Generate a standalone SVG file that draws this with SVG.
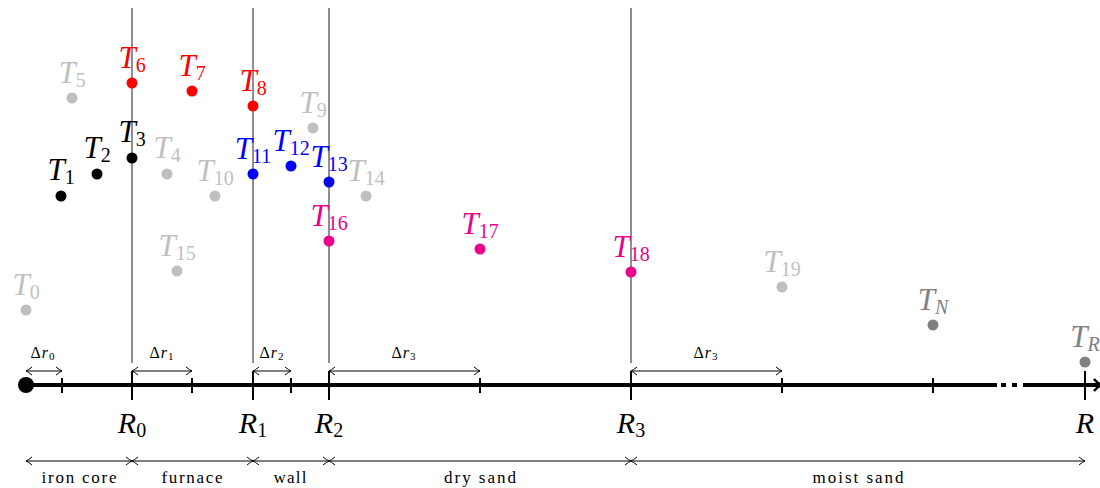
<svg xmlns="http://www.w3.org/2000/svg" width="1100" height="488" viewBox="0 0 1100 488" font-family="Liberation Serif, serif">
<style>
text{font-family:'Liberation Serif',serif}
.t{font-size:31px;font-style:italic}
.s{font-size:20px;font-style:normal}
.si{font-size:20px;font-style:italic}
.R{font-size:30px;font-style:italic}
.d{font-size:16px;letter-spacing:1px}
.ds{font-size:11px;font-style:normal}
.lab{font-size:17px}
.vl{stroke:#444;stroke-width:1.2}
.dim{stroke:#000;stroke-width:1;fill:none}
.ax{stroke:#000;stroke-width:4;fill:none}
.tk{stroke:#000;stroke-width:2}
.lg{fill:#bfbfbf}.bk{fill:#000}.rd{fill:#ff0000}.bl{fill:#0000ff}.mg{fill:#ec008c}.gy{fill:#808080}
</style>
<defs>
<marker id="ah" viewBox="-8 -5 10 10" refX="0" refY="0" markerWidth="10" markerHeight="10" markerUnits="userSpaceOnUse" orient="auto-start-reverse">
<path d="M-6,-4 Q-2,-0.8 0,0 Q-2,0.8 -6,4" fill="none" stroke="#000" stroke-width="1"/>
</marker>
</defs>
<g id="guides">
<line class="vl" x1="132" y1="8" x2="132" y2="363"/>
<line class="vl" x1="253" y1="8" x2="253" y2="363"/>
<line class="vl" x1="329" y1="8" x2="329" y2="363"/>
<line class="vl" x1="631" y1="8" x2="631" y2="363"/>
</g>
<g id="axis">
<line class="ax" x1="26" y1="385" x2="997" y2="385"/>
<line class="ax" x1="1001" y1="385" x2="1006" y2="385"/>
<line class="ax" x1="1012" y1="385" x2="1017" y2="385"/>
<line class="ax" x1="1023" y1="385" x2="1100" y2="385"/>
<path d="M1094,379 Q1098,384 1102,385 Q1098,386 1094,391" fill="none" stroke="#000" stroke-width="2.5"/>
<circle cx="26" cy="385" r="8" fill="#000"/>
<g class="tk">
<line x1="62" y1="378" x2="62" y2="393"/>
<line x1="192" y1="378" x2="192" y2="393"/>
<line x1="291" y1="378" x2="291" y2="393"/>
<line x1="480" y1="378" x2="480" y2="393"/>
<line x1="782" y1="378" x2="782" y2="393"/>
<line x1="933" y1="378" x2="933" y2="393"/>
<line x1="132" y1="371" x2="132" y2="400"/>
<line x1="253" y1="371" x2="253" y2="400"/>
<line x1="329" y1="371" x2="329" y2="400"/>
<line x1="631" y1="371" x2="631" y2="400"/>
<line x1="1085" y1="371" x2="1085" y2="400"/>
</g>
<text class="R" x="132" y="433" text-anchor="middle">R<tspan class="s" dy="4">0</tspan></text>
<text class="R" x="253" y="433" text-anchor="middle">R<tspan class="s" dy="4">1</tspan></text>
<text class="R" x="329" y="433" text-anchor="middle">R<tspan class="s" dy="4">2</tspan></text>
<text class="R" x="631" y="433" text-anchor="middle">R<tspan class="s" dy="4">3</tspan></text>
<text class="R" x="1085" y="433" text-anchor="middle">R</text>
</g>
<g id="connectors">
<line class="dim" x1="26" y1="371" x2="62" y2="371" marker-start="url(#ah)" marker-end="url(#ah)"/>
<line class="dim" x1="132" y1="371" x2="192" y2="371" marker-start="url(#ah)" marker-end="url(#ah)"/>
<line class="dim" x1="253" y1="371" x2="291" y2="371" marker-start="url(#ah)" marker-end="url(#ah)"/>
<line class="dim" x1="329" y1="371" x2="480" y2="371" marker-start="url(#ah)" marker-end="url(#ah)"/>
<line class="dim" x1="631" y1="371" x2="782" y2="371" marker-start="url(#ah)" marker-end="url(#ah)"/>
<line class="dim" x1="26" y1="461" x2="132" y2="461" marker-start="url(#ah)" marker-end="url(#ah)"/>
<line class="dim" x1="132" y1="461" x2="253" y2="461" marker-start="url(#ah)" marker-end="url(#ah)"/>
<line class="dim" x1="253" y1="461" x2="329" y2="461" marker-start="url(#ah)" marker-end="url(#ah)"/>
<line class="dim" x1="329" y1="461" x2="631" y2="461" marker-start="url(#ah)" marker-end="url(#ah)"/>
<line class="dim" x1="631" y1="461" x2="1085" y2="461" marker-start="url(#ah)" marker-end="url(#ah)"/>
</g>
<g id="dimlabels">
<text class="d" x="43" y="358" text-anchor="middle">Δ<tspan font-style="italic">r</tspan><tspan class="ds" dy="2">0</tspan></text>
<text class="d" x="162" y="358" text-anchor="middle">Δ<tspan font-style="italic">r</tspan><tspan class="ds" dy="2">1</tspan></text>
<text class="d" x="272" y="358" text-anchor="middle">Δ<tspan font-style="italic">r</tspan><tspan class="ds" dy="2">2</tspan></text>
<text class="d" x="404" y="358" text-anchor="middle">Δ<tspan font-style="italic">r</tspan><tspan class="ds" dy="2">3</tspan></text>
<text class="d" x="706" y="358" text-anchor="middle">Δ<tspan font-style="italic">r</tspan><tspan class="ds" dy="2">3</tspan></text>
<text class="lab" x="79" y="483" text-anchor="middle" textLength="75" lengthAdjust="spacing">iron core</text>
<text class="lab" x="192" y="483" text-anchor="middle" textLength="61" lengthAdjust="spacing">furnace</text>
<text class="lab" x="290" y="483" text-anchor="middle" textLength="33" lengthAdjust="spacing">wall</text>
<text class="lab" x="480" y="483" text-anchor="middle" textLength="72" lengthAdjust="spacing">dry sand</text>
<text class="lab" x="858" y="483" text-anchor="middle" textLength="91" lengthAdjust="spacing">moist sand</text>
</g>
<g id="T0" class="lg"><circle cx="26" cy="310" r="5.5"/><text class="t" x="26" y="295" text-anchor="middle">T<tspan class="s" dy="4">0</tspan></text></g>
<g id="T1" class="bk"><circle cx="61" cy="196" r="5.5"/><text class="t" x="61" y="180" text-anchor="middle">T<tspan class="s" dy="4">1</tspan></text></g>
<g id="T2" class="bk"><circle cx="97" cy="174" r="5.5"/><text class="t" x="97" y="158" text-anchor="middle">T<tspan class="s" dy="4">2</tspan></text></g>
<g id="T3" class="bk"><circle cx="132" cy="158" r="5.5"/><text class="t" x="132" y="142" text-anchor="middle">T<tspan class="s" dy="4">3</tspan></text></g>
<g id="T4" class="lg"><circle cx="167" cy="174" r="5.5"/><text class="t" x="167" y="158" text-anchor="middle">T<tspan class="s" dy="4">4</tspan></text></g>
<g id="T5" class="lg"><circle cx="72" cy="98" r="5.5"/><text class="t" x="72" y="83" text-anchor="middle">T<tspan class="s" dy="4">5</tspan></text></g>
<g id="T6" class="rd"><circle cx="132" cy="83" r="5.5"/><text class="t" x="132" y="68" text-anchor="middle">T<tspan class="s" dy="4">6</tspan></text></g>
<g id="T7" class="rd"><circle cx="192" cy="91" r="5.5"/><text class="t" x="192" y="76" text-anchor="middle">T<tspan class="s" dy="4">7</tspan></text></g>
<g id="T8" class="rd"><circle cx="253" cy="106" r="5.5"/><text class="t" x="253" y="91" text-anchor="middle">T<tspan class="s" dy="4">8</tspan></text></g>
<g id="T9" class="lg"><circle cx="313" cy="128" r="5.5"/><text class="t" x="313" y="113" text-anchor="middle">T<tspan class="s" dy="4">9</tspan></text></g>
<g id="T10" class="lg"><circle cx="215" cy="196" r="5.5"/><text class="t" x="215" y="181" text-anchor="middle">T<tspan class="s" dy="4">10</tspan></text></g>
<g id="T11" class="bl"><circle cx="253" cy="174" r="5.5"/><text class="t" x="253" y="159" text-anchor="middle">T<tspan class="s" dy="4">11</tspan></text></g>
<g id="T12" class="bl"><circle cx="291" cy="166" r="5.5"/><text class="t" x="291" y="151" text-anchor="middle">T<tspan class="s" dy="4">12</tspan></text></g>
<g id="T13" class="bl"><circle cx="329" cy="182" r="5.5"/><text class="t" x="329" y="167" text-anchor="middle">T<tspan class="s" dy="4">13</tspan></text></g>
<g id="T14" class="lg"><circle cx="366" cy="196" r="5.5"/><text class="t" x="366" y="181" text-anchor="middle">T<tspan class="s" dy="4">14</tspan></text></g>
<g id="T15" class="lg"><circle cx="177" cy="271" r="5.5"/><text class="t" x="177" y="256" text-anchor="middle">T<tspan class="s" dy="4">15</tspan></text></g>
<g id="T16" class="mg"><circle cx="329" cy="241" r="5.5"/><text class="t" x="329" y="226" text-anchor="middle">T<tspan class="s" dy="4">16</tspan></text></g>
<g id="T17" class="mg"><circle cx="480" cy="249" r="5.5"/><text class="t" x="480" y="234" text-anchor="middle">T<tspan class="s" dy="4">17</tspan></text></g>
<g id="T18" class="mg"><circle cx="631" cy="272" r="5.5"/><text class="t" x="631" y="257" text-anchor="middle">T<tspan class="s" dy="4">18</tspan></text></g>
<g id="T19" class="lg"><circle cx="782" cy="287" r="5.5"/><text class="t" x="782" y="272" text-anchor="middle">T<tspan class="s" dy="4">19</tspan></text></g>
<g id="TN" class="gy"><circle cx="933" cy="325" r="5.5"/><text class="t" x="933" y="310" text-anchor="middle">T<tspan class="si" dy="4">N</tspan></text></g>
<g id="TR" class="gy"><circle cx="1085" cy="362" r="5.5"/><text class="t" x="1085" y="347" text-anchor="middle">T<tspan class="si" dy="4">R</tspan></text></g>
</svg>
